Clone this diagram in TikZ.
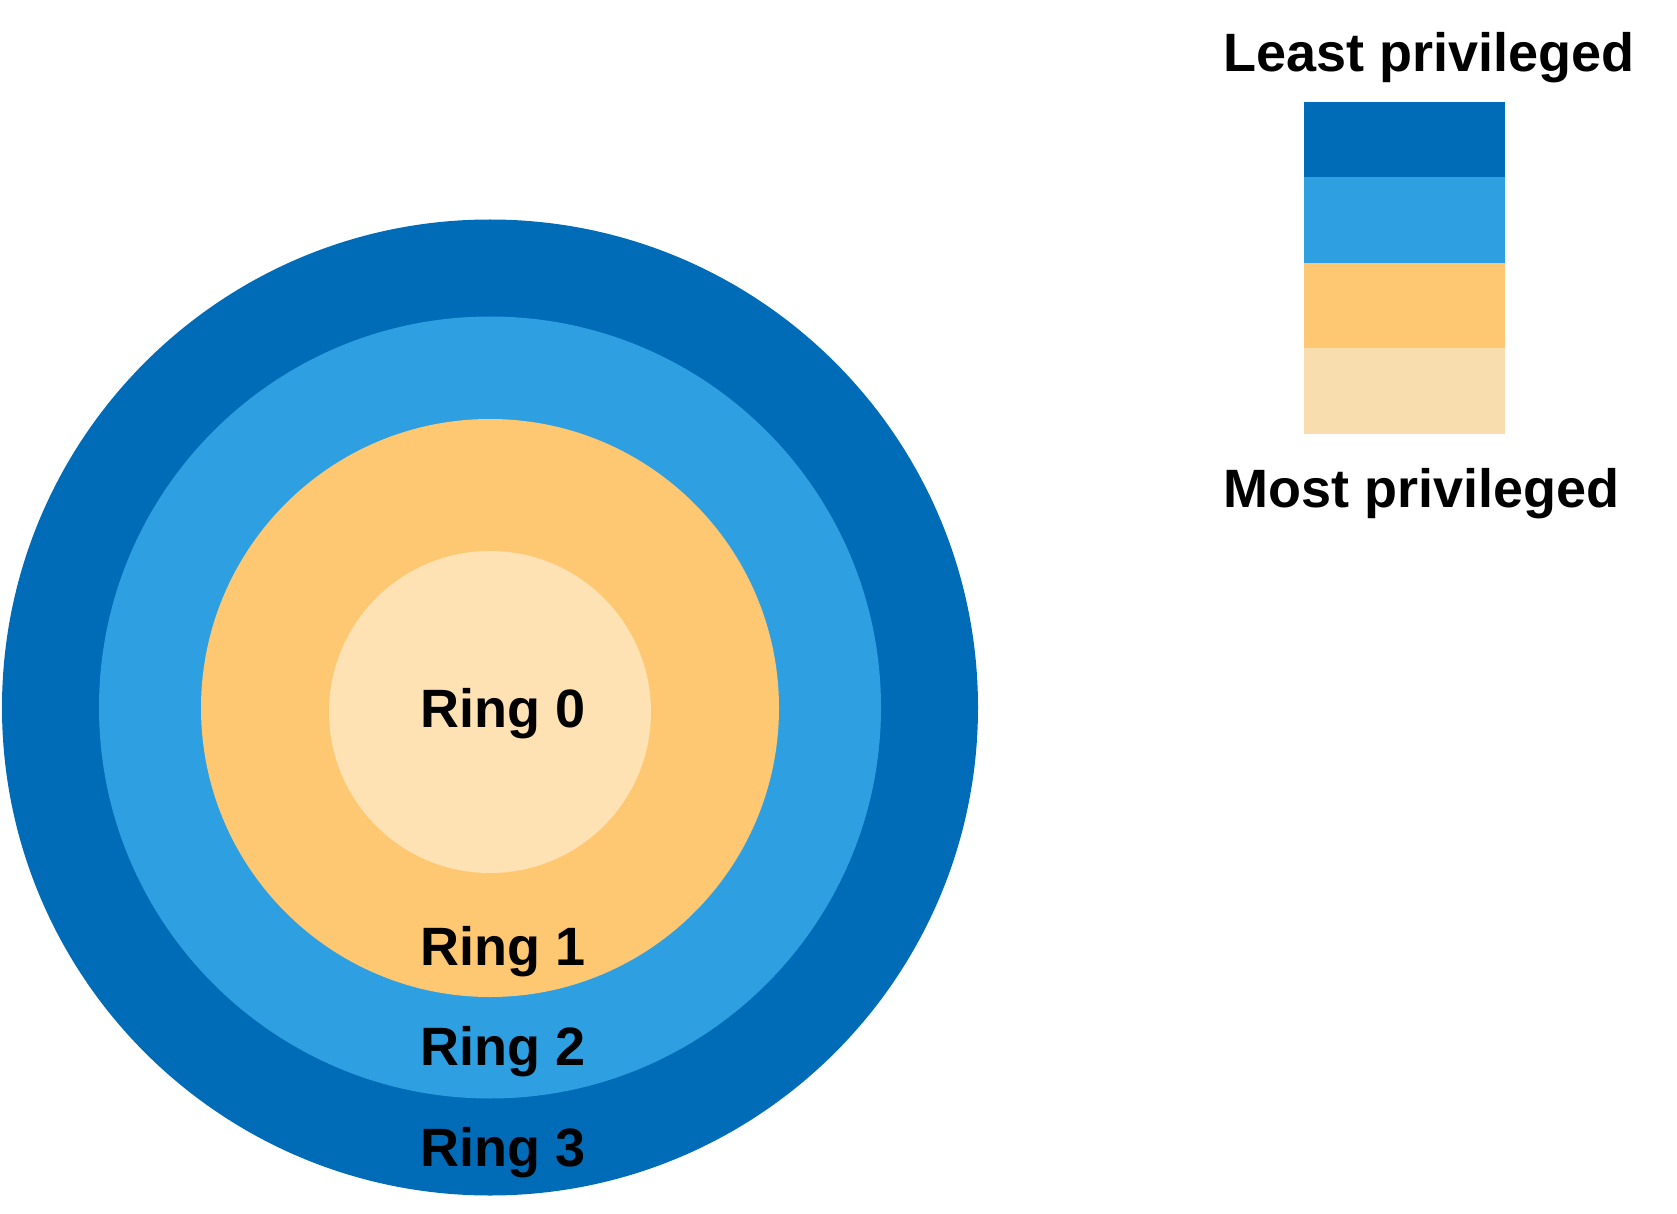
\documentclass[tikz,border=0pt]{standalone}
\usepackage{fontspec}
\setmainfont{Liberation Sans}
\newlength{\du}
\setlength{\du}{0.5pt}

\begin{document}
\begin{tikzpicture}
\pgftransformxscale{1.000000}
\pgftransformyscale{-1.000000}
\definecolor{ringthreecolor}{rgb}{0.000000, 0.423529, 0.721569}
\definecolor{ringtwocolor}{rgb}{0.180392, 0.623529, 0.878431}
\definecolor{ringonecolor}{rgb}{0.996078, 0.784314, 0.450980}
\definecolor{ringzerocolor}{rgb}{1.000000, 0.886275, 0.701961}
\definecolor{legendzerocolor}{rgb}{0.972549, 0.866667, 0.686275}
\tikzset{ringlabel/.style={anchor=base west, inner sep=0pt, text=black, font=\fontsize{27}{32}\selectfont\bfseries}}
\useasboundingbox (0\du,0\du) rectangle (1677\du,1214\du);
% rings
\fill[ringthreecolor] (490.000000\du,707.500000\du) circle (488.000000\du);
\fill[ringtwocolor] (490.000000\du,707.500000\du) circle (391.000000\du);
\fill[ringonecolor] (490.000000\du,708.000000\du) circle (289.000000\du);
\fill[ringzerocolor] (490.000000\du,712.000000\du) circle (161.000000\du);
% setfont left to latex
\node[ringlabel] (ring0) at (420.000000\du,727.000000\du){Ring 0};
\node[ringlabel] (ring1) at (420.000000\du,965.000000\du){Ring 1};
\node[ringlabel] (ring2) at (420.000000\du,1065.000000\du){Ring 2};
\node[ringlabel] (ring3) at (420.000000\du,1166.000000\du){Ring 3};
% legend
\fill[ringthreecolor] (1304.000000\du,102.000000\du) rectangle (1505.000000\du,178.000000\du);
\fill[ringtwocolor] (1304.000000\du,177.000000\du) rectangle (1505.000000\du,263.000000\du);
\fill[ringonecolor] (1304.000000\du,263.000000\du) rectangle (1505.000000\du,348.000000\du);
\fill[legendzerocolor] (1304.000000\du,348.000000\du) rectangle (1505.000000\du,434.000000\du);
% setfont left to latex
\node[ringlabel] (least) at (1223.000000\du,72.000000\du){Least privileged};
\node[ringlabel] (most) at (1223.000000\du,507.000000\du){Most privileged};
\end{tikzpicture}
\end{document}
